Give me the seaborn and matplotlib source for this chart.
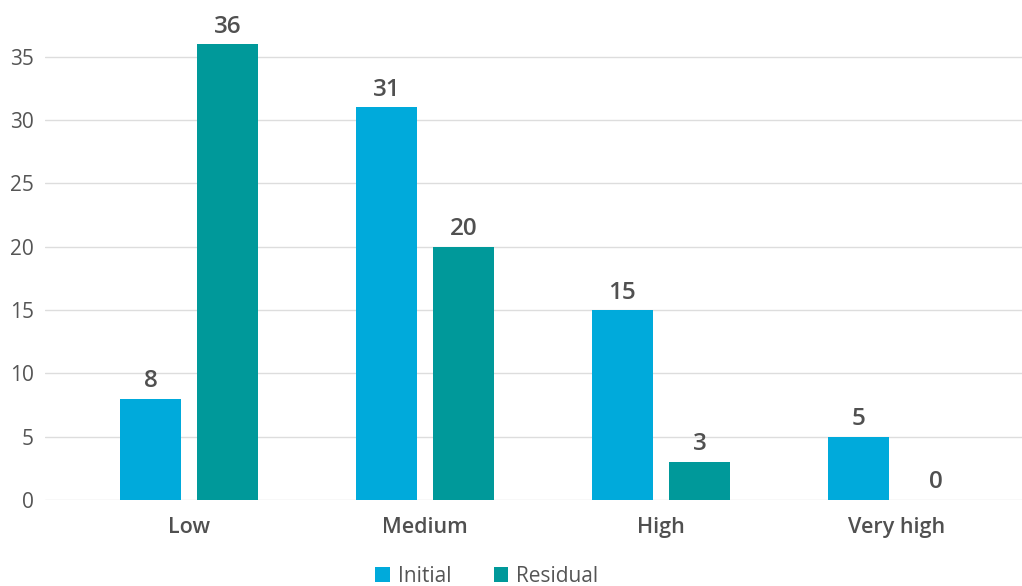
import matplotlib
matplotlib.use("Agg")
import matplotlib.pyplot as plt
import seaborn as sns
import pandas as pd
from matplotlib.patches import Patch

categories = ["Low", "Medium", "High", "Very high"]
initial = [8, 31, 15, 5]
residual = [36, 20, 3, 0]
series_names = ["Initial", "Residual"]
colors = ["#00AADB", "#00999A"]

df = pd.DataFrame({
    "category": categories * 2,
    "value": initial + residual,
    "series": [series_names[0]] * len(categories) + [series_names[1]] * len(categories),
})

sns.set_theme(style="white")
plt.rcParams["font.family"] = ["Open Sans", "DejaVu Sans"]

fig = plt.figure(figsize=(10.22, 5.86), dpi=100)
ax = fig.add_axes([45 / 1022, 86 / 586, 1 - 45 / 1022, (500 - 40) / 586])

sns.barplot(data=df, x="category", y="value", hue="series", order=categories,
            hue_order=series_names, palette=colors, width=0.653, gap=0.208,
            saturation=1, legend=False, linewidth=0, edgecolor="none", ax=ax)

for cont in ax.containers:
    ax.bar_label(cont, padding=4, fontsize=17.5, fontweight="semibold", color="#505050")

ax.set_ylim(0, 36.33)
ax.set_xlim(-0.61, 3.53)
ax.set_yticks([0, 5, 10, 15, 20, 25, 30, 35])
ax.yaxis.grid(True, color="#dddddd", linewidth=1)
ax.set_axisbelow(True)
for s in ax.spines.values():
    s.set_visible(False)
ax.set_xlabel("")
ax.set_ylabel("")
ax.tick_params(axis="y", labelsize=15, labelcolor="#555555", length=0, pad=8)
ax.tick_params(axis="x", labelsize=15.5, labelcolor="#505050", length=0, pad=12)
for t in ax.get_xticklabels():
    t.set_fontweight("semibold")

handles = [Patch(facecolor=c, edgecolor="none") for c in colors]
fig.legend(handles, series_names, loc="center", bbox_to_anchor=(487 / 1022, 1 - 576 / 586),
           ncol=2, frameon=False, fontsize=15, handlelength=0.7, handleheight=0.7,
           handletextpad=0.4, columnspacing=2.0, labelcolor="#555555")

fig.savefig("out.png", dpi=100)
